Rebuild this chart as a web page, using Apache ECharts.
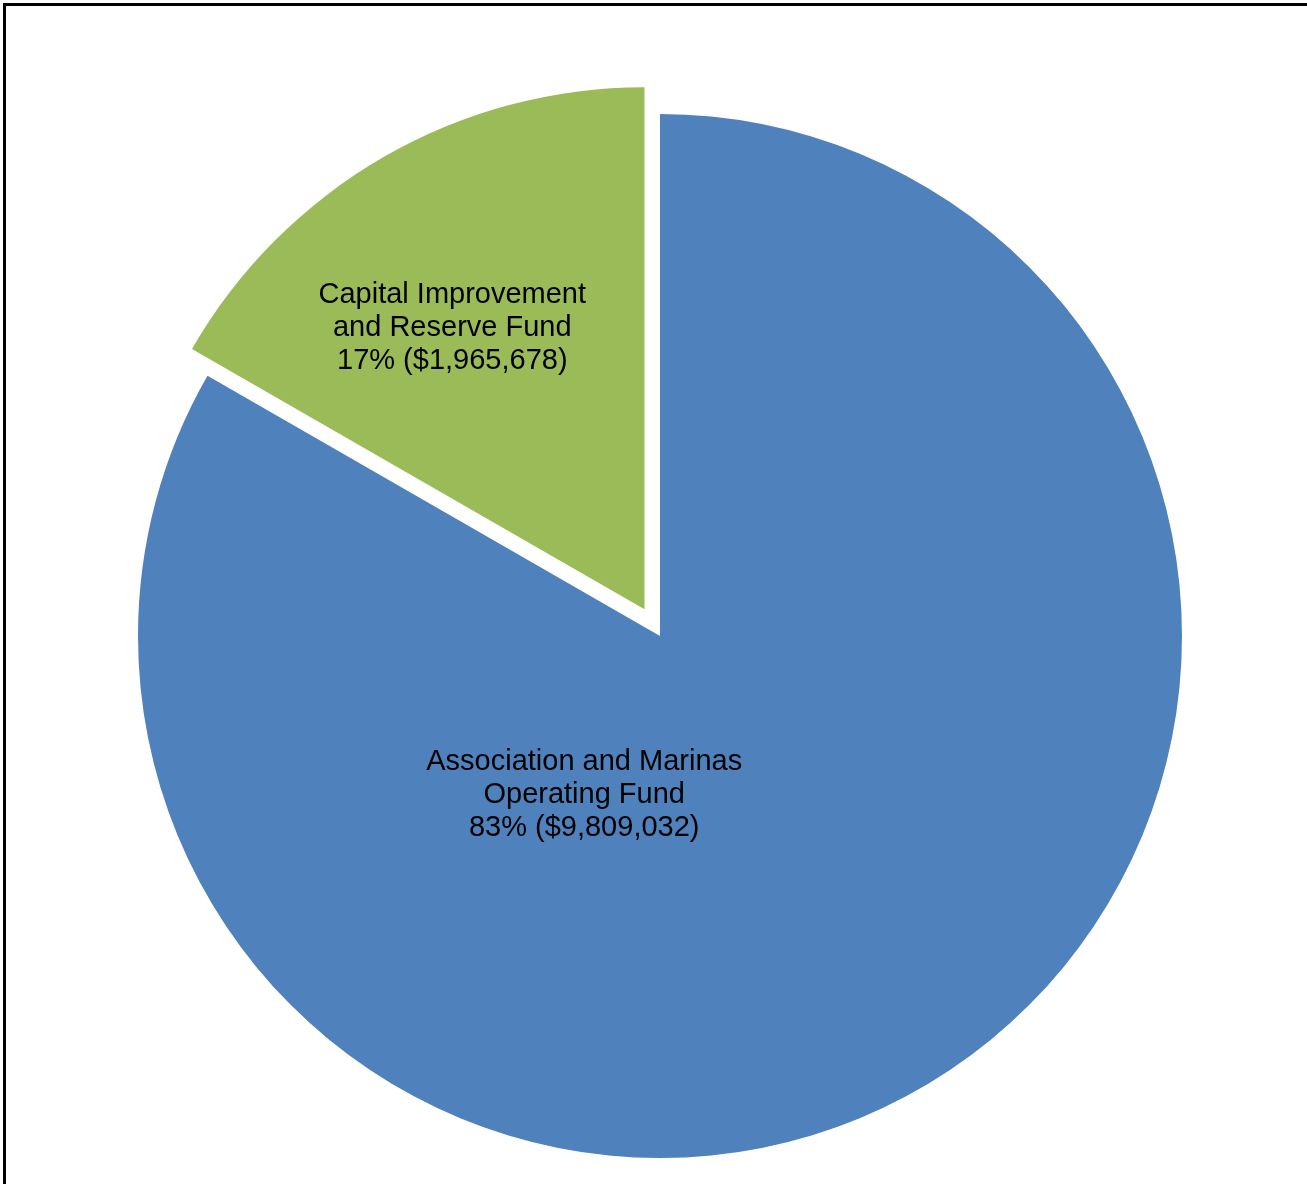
<!DOCTYPE html>
<html>
<head>
<meta charset="utf-8">
<title>Fund Allocation</title>
<script src="https://cdn.jsdelivr.net/npm/echarts@6/dist/echarts.min.js"></script>
<style>
  html, body { margin: 0; padding: 0; background: #fff; }
  #chart { width: 1307px; height: 1184px; }
</style>
</head>
<body>
<div id="chart"></div>
<script>
// Fund names, split over lines as they appear on the slices
const fundNames = [
  'Association and Marinas\nOperating Fund',
  'Capital Improvement\nand Reserve Fund'
];
const fundAmounts = [9809032, 1965678];
const fundColors = ['#4F81BD', '#9BBB59'];
// The reserve fund slice is pulled out of the pie
const fundExploded = [false, true];

// Shift of each label from its default spot inside the slice
const labelShifts = [[-208, -70], [-60, -53]];

const total = fundAmounts.reduce((a, b) => a + b, 0);
const fmtMoney = v => '$' + v.toLocaleString('en-US');

const chart = echarts.init(document.getElementById('chart'), null, { renderer: 'canvas' });

const labelBase = {
  show: true,
  position: 'inside',
  color: '#000',
  fontFamily: '"Liberation Sans", Arial, sans-serif',
  fontSize: 29,
  lineHeight: 33,
  align: 'center',
  formatter: p => p.name + '\n' + Math.round(p.value / total * 100) + '% (' + fmtMoney(p.value) + ')'
};

chart.setOption({
  backgroundColor: '#ffffff',
  animation: false,
  graphic: [{
    type: 'rect',
    shape: { x: 4.5, y: 4.5, width: 1400, height: 1400 },
    style: { fill: 'none', stroke: '#000', lineWidth: 3 },
    silent: true
  }],
  series: [{
    type: 'pie',
    center: [660, 636],
    radius: 522,
    startAngle: 90,
    clockwise: true,
    selectedMode: 'multiple',
    selectedOffset: 31,
    avoidLabelOverlap: false,
    emphasis: { disabled: true },
    itemStyle: { borderWidth: 0 },
    labelLine: { show: false },
    label: labelBase,
    data: fundAmounts.map((v, i) => ({
      name: fundNames[i],
      value: v,
      selected: fundExploded[i],
      itemStyle: { color: fundColors[i] },
      label: { offset: labelShifts[i] },
      select: {
        itemStyle: { color: fundColors[i], borderWidth: 0 },
        label: { offset: labelShifts[i] }
      }
    }))
  }]
});
</script>
</body>
</html>
